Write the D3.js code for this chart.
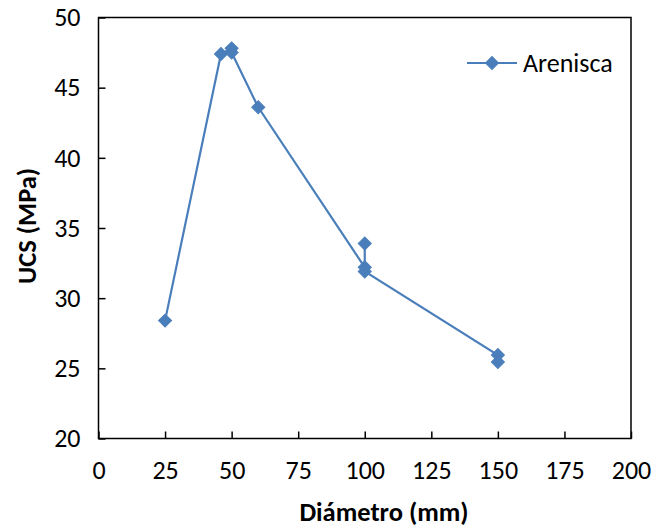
<!DOCTYPE html>
<html><head><meta charset="utf-8">
<script src="https://cdn.jsdelivr.net/npm/d3@7"></script>
<style>body{margin:0;background:#fff}svg{display:block}</style>
</head><body>
<svg id="c" width="654" height="529"></svg>
<script>
const diameters = [25, 46, 50, 50, 60, 100, 100, 100, 150, 150];
const ucs = [28.4, 47.4, 47.8, 47.5, 43.6, 32.2, 33.9, 31.9, 25.95, 25.45];
const seriesName = "Arenisca";
const xTicks = [0, 25, 50, 75, 100, 125, 150, 175, 200];
const yTicks = [20, 25, 30, 35, 40, 45, 50];

const svg = d3.select("#c");
const L = 98.5, R = 631, T = 17.5, B = 438.5;
const x = d3.scaleLinear().domain([0, 200]).range([L, R]);
const y = d3.scaleLinear().domain([20, 50]).range([B, T]);
const font = "Calibri, Carlito, Lato, 'Liberation Sans', sans-serif";
const col = "#4a7ebb";

svg.append("rect").attr("x", L).attr("y", T).attr("width", R - L).attr("height", B - T)
  .attr("fill", "none").attr("stroke", "#000").attr("stroke-width", 1.5);

const xa = svg.append("g").attr("transform", `translate(0,${B})`)
  .call(d3.axisBottom(x).tickValues(xTicks).tickSizeInner(-7).tickSizeOuter(0).tickPadding(23));
const ya = svg.append("g").attr("transform", `translate(${L},0)`)
  .call(d3.axisLeft(y).tickValues(yTicks).tickSizeInner(-7).tickSizeOuter(0).tickPadding(18));
[xa, ya].forEach(a => {
  a.select(".domain").remove();
  a.selectAll("line").attr("stroke", "#000").attr("stroke-width", 1.5);
  a.selectAll("text").attr("font-family", font).attr("font-size", 26).attr("fill", "#000");
});
xa.selectAll("text").attr("dy", "0.68em");

const pts = diameters.map((d, i) => [d, ucs[i]]);
svg.append("path").datum(pts)
  .attr("d", d3.line().x(d => x(d[0])).y(d => y(d[1])))
  .attr("fill", "none").attr("stroke", col).attr("stroke-width", 2.2);

svg.selectAll(".m").data(pts).join("path")
  .attr("transform", d => `translate(${x(d[0])},${y(d[1])}) rotate(45)`)
  .attr("d", d3.symbol().type(d3.symbolSquare).size(85))
  .attr("fill", col).attr("stroke", col).attr("stroke-width", 1);

// legend
const ly = 63;
svg.append("line").attr("x1", 467).attr("x2", 517).attr("y1", ly).attr("y2", ly)
  .attr("stroke", col).attr("stroke-width", 2.2);
svg.append("path").attr("transform", `translate(492,${ly}) rotate(45)`)
  .attr("d", d3.symbol().type(d3.symbolSquare).size(85))
  .attr("fill", col).attr("stroke", col).attr("stroke-width", 1);
svg.append("text").attr("x", 523).attr("y", ly).attr("dy", "0.35em")
  .attr("font-family", font).attr("font-size", 26).text(seriesName);

svg.append("text").attr("x", 384).attr("y", 521)
  .attr("text-anchor", "middle").attr("font-family", font).attr("font-size", 26.5)
  .attr("font-weight", "bold").text("Diámetro (mm)");
svg.append("text").attr("transform", "translate(36,226) rotate(-90)")
  .attr("text-anchor", "middle").attr("font-family", font).attr("font-size", 26.5)
  .attr("font-weight", "bold").text("UCS (MPa)");
</script>
</body></html>
